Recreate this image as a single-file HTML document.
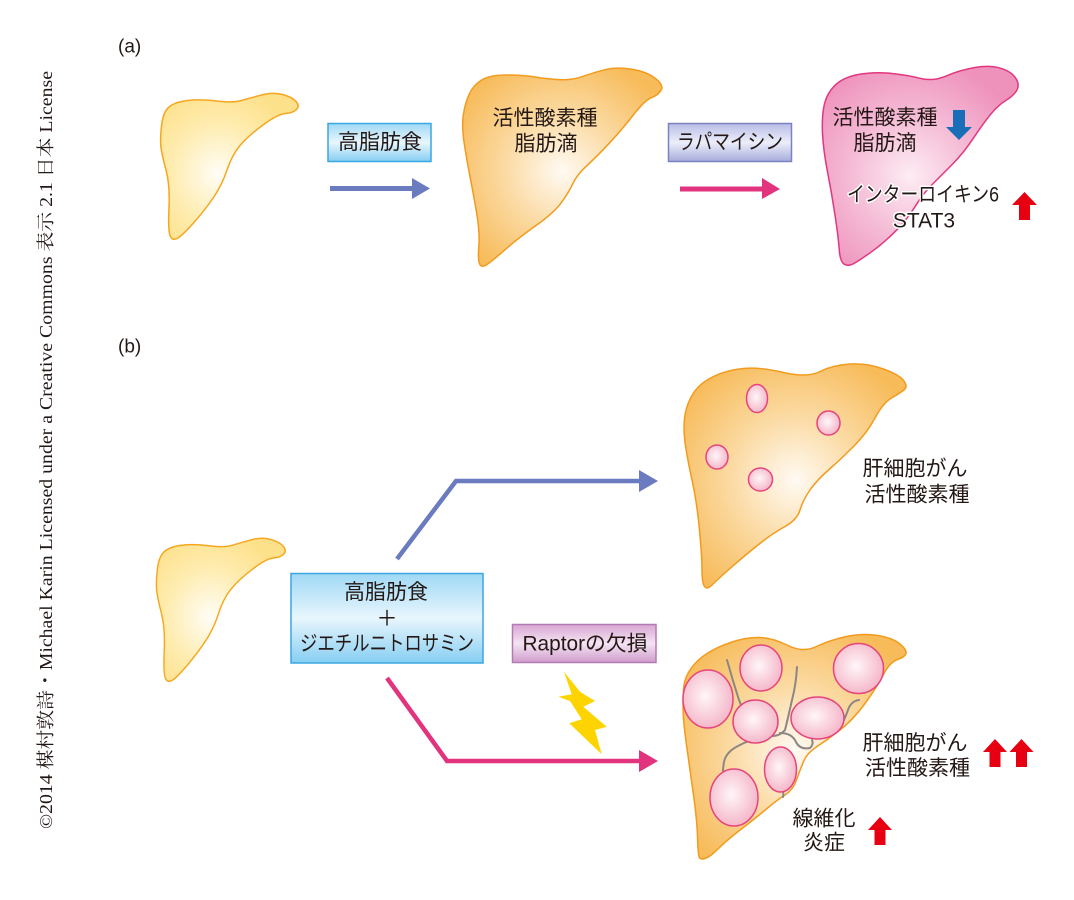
<!DOCTYPE html>
<html><head><meta charset="utf-8"><style>
html,body{margin:0;padding:0;background:#fff;}
svg{display:block;}
.t{font-family:"Liberation Sans","Noto Sans CJK JP",sans-serif;font-size:21px;fill:#231815;text-anchor:middle;dominant-baseline:central;}
</style></head><body>
<svg width="1074" height="900" viewBox="0 0 1074 900" xmlns="http://www.w3.org/2000/svg">
<defs>
<radialGradient id="gy" cx="0.42" cy="0.55" r="0.62">
<stop offset="0" stop-color="#fffdf6"/><stop offset="0.55" stop-color="#feecb0"/><stop offset="1" stop-color="#fde08a"/></radialGradient>
<radialGradient id="go" cx="0.5" cy="0.52" r="0.6">
<stop offset="0" stop-color="#fffaf3"/><stop offset="0.5" stop-color="#fbd9a0"/><stop offset="1" stop-color="#f7bb5a"/></radialGradient>
<radialGradient id="gp" cx="0.45" cy="0.55" r="0.6">
<stop offset="0" stop-color="#fdecf3"/><stop offset="0.5" stop-color="#f5bcd6"/><stop offset="1" stop-color="#ee92bc"/></radialGradient>
<radialGradient id="gn" cx="0.45" cy="0.45" r="0.6">
<stop offset="0" stop-color="#fff6f9"/><stop offset="1" stop-color="#f4b2c5"/></radialGradient>
<linearGradient id="bb" x1="0" y1="0" x2="0" y2="1">
<stop offset="0" stop-color="#9fd8f5"/><stop offset="0.5" stop-color="#e8f6fd"/><stop offset="1" stop-color="#86cef2"/></linearGradient>
<linearGradient id="bp" x1="0" y1="0" x2="0" y2="1">
<stop offset="0" stop-color="#b9bde6"/><stop offset="0.5" stop-color="#eceefa"/><stop offset="1" stop-color="#a6acdc"/></linearGradient>
<linearGradient id="bm" x1="0" y1="0" x2="0" y2="1">
<stop offset="0" stop-color="#d7a6d3"/><stop offset="0.5" stop-color="#f4e4f2"/><stop offset="1" stop-color="#cf9ccc"/></linearGradient>
<path id="liv1" d="M161.5,126 Q163,112 169,107 Q175,102 187.5,100.5 Q200,99 216.5,101 Q233,103 241.5,100.5 Q250,98 261.5,95 Q273,92 282.5,94.5 Q292,97 296,101.5 Q300,106 296.5,109.5 Q293,113 285.5,113.5 Q278,114 263,125 Q248,136 240,145.5 Q232,155 227,170 Q222,185 213.5,197.5 Q205,210 193.5,223 Q182,236 177,238.5 Q172,241 170,235.5 Q168,230 169,207.5 Q170,185 166,170 Q162,155 161,147.5 Q160,140 161.5,126 Z"/>
</defs>

<!-- vertical credit -->
<text transform="translate(52,450) rotate(-90)" x="0" y="0" text-anchor="middle" font-family="'Liberation Serif','Noto Serif CJK SC',serif" font-size="18" fill="#231815" textLength="758" lengthAdjust="spacingAndGlyphs">©2014 楳村敦詩・Michael Karin Licensed under a Creative Commons 表示 2.1 日本 License</text>

<!-- (a) -->
<text x="118" y="47" font-family="'Liberation Sans',sans-serif" font-size="19" fill="#231815" dominant-baseline="central">(a)</text>

<use href="#liv1" fill="url(#gy)" stroke="#f5a71e" stroke-width="1.5"/>

<rect x="328" y="123.5" width="103" height="38" fill="url(#bb)" stroke="#3aa7e0" stroke-width="1.5"/>
<text class="t" x="380" y="142.5">高脂肪食</text>
<rect x="330" y="186" width="84" height="5" fill="#6a7bbf"/>
<polygon points="412,178 430,188.5 412,199" fill="#6a7bbf"/>

<path d="M463.3,115 Q465,103.3 469.2,94.2 Q473.3,85 481.7,80 Q490,75 506.7,75 Q523.3,75 536.7,77.2 Q550,79.3 561.7,79.7 Q573.3,80 583.3,76.3 Q593.3,72.7 605,69.7 Q616.7,66.7 631.7,69.2 Q646.7,71.7 655.3,78.3 Q664,85 661.2,90 Q658.3,95 651.7,97.5 Q645,100 633.3,115 Q621.7,130 609.2,143.3 Q596.7,156.7 586.7,165.8 Q576.7,175 572.5,184.2 Q568.3,193.3 560.8,203.3 Q553.3,213.3 536.7,225 Q520,236.7 506.7,248.3 Q493.3,260 487.5,264.2 Q481.7,268.3 479.7,264.2 Q477.7,260 478.8,246.7 Q480,233.3 476.7,213.3 Q473.3,193.3 470,176.7 Q466.7,160 464.2,143.3 Q461.7,126.7 463.3,115 Z" fill="url(#go)" stroke="#f29b1d" stroke-width="1.5"/>
<text class="t" x="545" y="118.5">活性酸素種</text>
<text class="t" x="546" y="144">脂肪滴</text>

<rect x="668.5" y="123.5" width="123" height="38" fill="url(#bp)" stroke="#7a82c2" stroke-width="1.5"/>
<text class="t" x="730" y="142.5" textLength="106" lengthAdjust="spacingAndGlyphs">ラパマイシン</text>
<rect x="680" y="186.5" width="84" height="5" fill="#e2337f"/>
<polygon points="762,178 780,189 762,199" fill="#e2337f"/>

<path d="M824.2,105 Q826.7,93.3 835,85.3 Q843.3,77.3 858.3,74.5 Q873.3,71.7 890,73.3 Q906.7,75 920,78.3 Q933.3,81.7 946.7,75.8 Q960,70 975,67.5 Q990,65 1000.8,68.3 Q1011.7,71.7 1015.8,78.3 Q1020,85 1016.7,90.5 Q1013.3,96 1005.8,100.5 Q998.3,105 990.8,114.2 Q983.3,123.3 973.3,138.3 Q963.3,153.3 951.7,165 Q940,176.7 931.7,185 Q923.3,193.3 915,206.7 Q906.7,220 895,231.7 Q883.3,243.3 871.7,251.7 Q860,260 854.2,263.3 Q848.3,266.7 844.2,264.2 Q840,261.7 839.2,249.2 Q838.3,236.7 835,215 Q831.7,193.3 827.5,171.7 Q823.3,150 822.5,133.3 Q821.7,116.7 824.2,105 Z" fill="url(#gp)" stroke="#e2377f" stroke-width="1.5"/>
<text class="t" x="885" y="118">活性酸素種</text>
<text class="t" x="885" y="143.5">脂肪滴</text>
<polygon points="953,110 965,110 965,127 972,127 959,140 946,127 953,127" fill="#1a6eb8"/>
<text class="t" x="923" y="195" textLength="152" lengthAdjust="spacingAndGlyphs" stroke="#fff" stroke-width="3" paint-order="stroke" stroke-linejoin="round">インターロイキン6</text>
<text class="t" x="924" y="221" stroke="#fff" stroke-width="3" paint-order="stroke" stroke-linejoin="round">STAT3</text>
<polygon points="1024.5,192 1037,205 1030,205 1030,220 1019,220 1019,205 1012,205" fill="#e60012"/>

<!-- (b) -->
<text x="118" y="347" font-family="'Liberation Sans',sans-serif" font-size="19" fill="#231815" dominant-baseline="central">(b)</text>

<use href="#liv1" transform="matrix(0.937,0,0,0.98,5.9,446.8)" fill="url(#gy)" stroke="#f5a71e" stroke-width="1.5"/>

<polyline points="397,559 456,481 642,481" fill="none" stroke="#6a7bbf" stroke-width="4.5"/>
<polygon points="639,470 658,481 639,492" fill="#6a7bbf"/>
<polyline points="387,678 447,761 642,761" fill="none" stroke="#e2337f" stroke-width="4.5"/>
<polygon points="639,750 658,761 639,772" fill="#e2337f"/>

<rect x="291" y="573.5" width="192" height="89.5" fill="url(#bb)" stroke="#3aa7e0" stroke-width="1.5"/>
<text class="t" x="386" y="592.5">高脂肪食</text>
<text class="t" x="387" y="619">＋</text>
<text class="t" x="387" y="644" textLength="174" lengthAdjust="spacingAndGlyphs">ジエチルニトロサミン</text>

<rect x="512.5" y="624.5" width="143.5" height="38" fill="url(#bm)" stroke="#b47ab4" stroke-width="1.5"/>
<text class="t" x="585" y="644" textLength="125" lengthAdjust="spacingAndGlyphs">Raptorの欠損</text>

<polygon points="564,671.7 580,691.7 595,701 583.3,706.7 606.7,726.7 595,730 601.7,754.3 569.3,723.3 581.7,719.3 570,701 558.3,696.7 571.7,694.3" fill="#fdd400"/>

<!-- liver 5 -->
<path d="M685,415 Q687,403 693.5,393 Q700,383 713.5,376.5 Q727,370 743.5,368.5 Q760,367 783.5,372.5 Q807,378 820,371.5 Q833,365 850,364 Q867,363 883.5,369 Q900,375 904,381 Q908,387 904,390 Q900,393 891.5,398 Q883,403 875,418 Q867,433 853.5,446.5 Q840,460 828.5,470 Q817,480 810,490 Q803,500 800,510 Q797,520 785,526.5 Q773,533 758,545 Q743,557 730,568.5 Q717,580 712,585 Q707,590 704.5,586.5 Q702,583 702,570 Q702,557 699.5,530 Q697,503 692,480 Q687,457 685,442 Q683,427 685,415 Z" fill="url(#go)" stroke="#f29b1d" stroke-width="1.5"/>
<g fill="url(#gn)" stroke="#e6457b" stroke-width="1.5">
<ellipse cx="757" cy="398.5" rx="10.5" ry="14"/>
<ellipse cx="828.5" cy="423" rx="11.5" ry="12"/>
<ellipse cx="717" cy="457" rx="11" ry="12"/>
<ellipse cx="760.5" cy="479.5" rx="12" ry="11.5"/>
</g>
<text class="t" x="915" y="469">肝細胞がん</text>
<text class="t" x="917" y="495">活性酸素種</text>

<!-- liver 6 -->
<path d="M684,685 Q685,677 691,668.5 Q697,660 707,653.5 Q717,647 732,642 Q747,637 760,637.5 Q773,638 788,645.5 Q803,653 816.5,646.5 Q830,640 846.5,636.5 Q863,633 878,635.5 Q893,638 900,644 Q907,650 906,653.5 Q905,657 897.5,659.5 Q890,662 883.5,674.5 Q877,687 865,703.5 Q853,720 840,730 Q827,740 817,746.5 Q807,753 803.5,761.5 Q800,770 796.5,780 Q793,790 785,795 Q777,800 767,808.5 Q757,817 742,828.5 Q727,840 718.5,848.5 Q710,857 705,858.5 Q700,860 699,856.5 Q698,853 697.5,836.5 Q697,820 693.5,795 Q690,770 686.5,745 Q683,720 683,706.5 Q683,693 684,685 Z" fill="url(#go)" stroke="#f29b1d" stroke-width="1.5"/>
<g fill="none" stroke="#8c8784" stroke-width="2" stroke-linecap="round" stroke-linejoin="round">
<path d="M727,660 Q732,678 738,697 Q742,708 745,715"/>
<path d="M797,667 Q796,685 792,700 Q788,718 785,730 Q780,736 772,736 Q752,738 738,746 Q726,752 724,762 Q723,768 723,772"/>
<path d="M780,733 Q792,733 796,742 Q800,750 810,748 Q814,744 812,740"/>
<path d="M859,700 Q851,701 848,710 Q845,718 843,722"/>
<path d="M782,786 Q784,792 783,797"/>
</g>
<g fill="url(#gn)" stroke="#e6457b" stroke-width="1.5">
<ellipse cx="761" cy="668" rx="21" ry="23"/>
<ellipse cx="858.5" cy="668.5" rx="25" ry="25"/>
<ellipse cx="708" cy="699" rx="25" ry="29"/>
<ellipse cx="755.5" cy="721.5" rx="22.5" ry="21.5"/>
<ellipse cx="817.5" cy="718" rx="26.5" ry="21"/>
<ellipse cx="780.5" cy="769.5" rx="16" ry="22.5"/>
<ellipse cx="734" cy="797.5" rx="24" ry="28.5"/>
</g>
<text class="t" x="915" y="743.5">肝細胞がん</text>
<text class="t" x="917.5" y="768.5">活性酸素種</text>
<polygon points="995,739 1007,752 1000.5,752 1000.5,767 989.5,767 989.5,752 983,752" fill="#e60012"/>
<polygon points="1021.5,739 1033.5,752 1027,752 1027,767 1016,767 1016,752 1009.5,752" fill="#e60012"/>
<text class="t" x="824" y="819">線維化</text>
<text class="t" x="824" y="843">炎症</text>
<polygon points="880,817 892,830 885.5,830 885.5,845 874.5,845 874.5,830 868,830" fill="#e60012"/>
</svg>
</body></html>
